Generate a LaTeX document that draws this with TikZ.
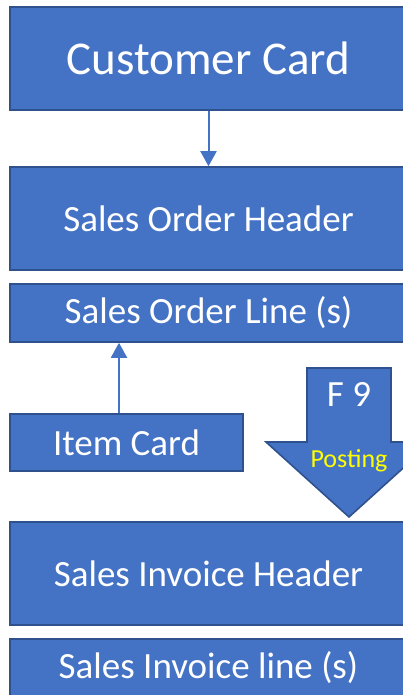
\documentclass[tikz,border=0pt]{standalone}
\usepackage{fontspec}
\setmainfont{Carlito}
\usetikzlibrary{arrows.meta}
\definecolor{boxfill}{HTML}{4472C4}
\definecolor{boxline}{HTML}{2F528F}
\definecolor{posty}{HTML}{FFFF00}
\begin{document}
\begin{tikzpicture}[x=1pt,y=-1pt,
  box/.style={draw=boxline,fill=boxfill,line width=1.6pt,text=white,inner sep=0pt,font=\fontsize{37}{40}\selectfont},
  conn/.style={draw=boxfill,line width=2pt,-{Triangle[length=15pt,width=16pt]}}]
\useasboundingbox (0,0) rectangle (403,695);
\fill[white] (0,0) rectangle (403,695);
\node[box,minimum width=397pt,minimum height=103pt,font=\fontsize{47}{50}\selectfont] (cc) at (208.5,58.5) {Customer Card};
\node[box,minimum width=397pt,minimum height=103pt] (soh) at (208.5,218.5) {Sales Order Header};
\node[box,minimum width=397pt,minimum height=58pt] (sol) at (208.5,313) {Sales Order Line (s)};
\node[box,minimum width=233pt,minimum height=57pt] (ic) at (126.5,442.5) {Item Card};
\node[box,minimum width=397pt,minimum height=103pt] (sih) at (208.5,573.5) {Sales Invoice Header};
\node[box,minimum width=397pt,minimum height=58pt] (sil) at (208.5,668) {Sales Invoice line (s)};
\draw[boxline,fill=boxfill,line width=1.6pt,line join=miter]
  (307,368) -- (391,368) -- (391,442) -- (432,442) -- (349,517) -- (266,442) -- (307,442) -- cycle;
\node[text=white,font=\fontsize{37}{40}\selectfont,inner sep=0pt] (f9) at (349,394) {F 9};
\node[text=posty,font=\fontsize{26}{28}\selectfont,inner sep=0pt] (post) at (349,461) {Posting};
\draw[conn] (cc.south) -- (soh.north);
\coordinate (ax) at (119,414);
\draw[conn] (ic.north -| ax) -- (sol.south -| ax);
\end{tikzpicture}
\end{document}
